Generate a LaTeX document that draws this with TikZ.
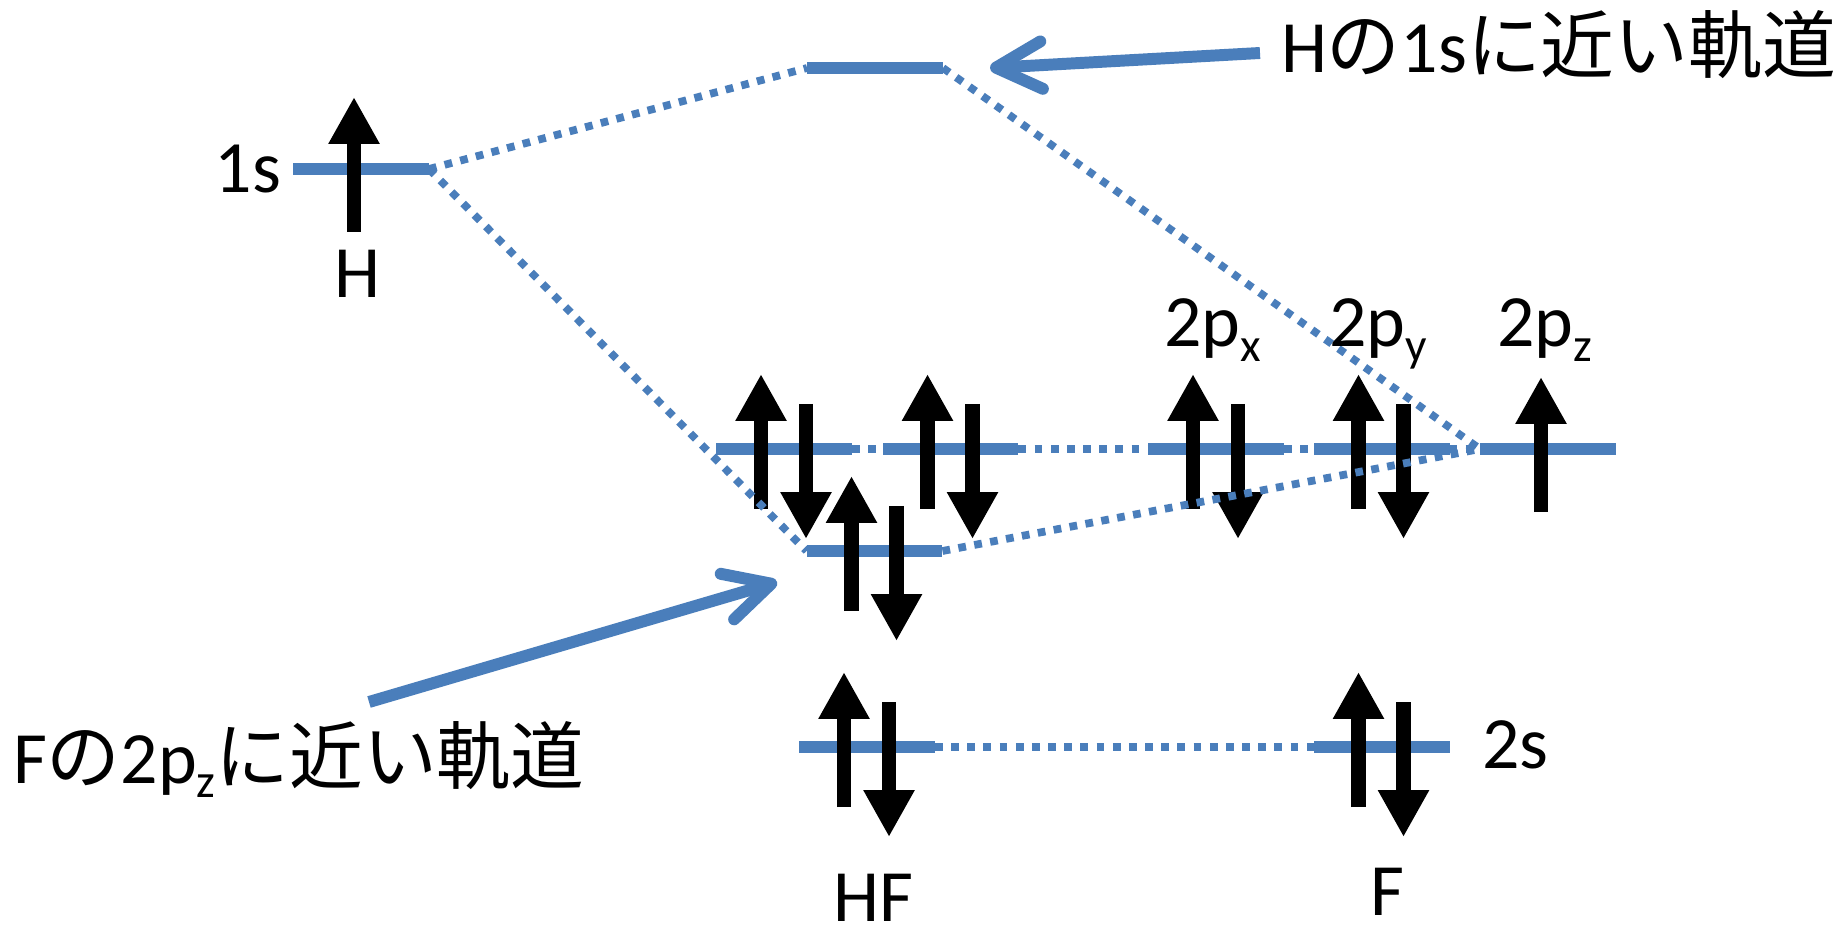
\documentclass[tikz,border=0pt]{standalone}
\usepackage{fontspec}
\setmainfont{Carlito}
\newfontfamily\jp{Noto Sans CJK JP}
\usetikzlibrary{arrows.meta,calc}
\definecolor{lvblue}{RGB}{74,126,187}
\newcommand\lowsub[1]{\raisebox{-8.5pt}{\fontsize{27}{27}\selectfont #1}}
\newcommand\epair[1]{%
  \draw[eup] ($(#1.west)+(45,60)$) -- ++(0,-135);
  \draw[eup] ($(#1.west)+(90,-45)$) -- ++(0,135);}
\newcommand\esingle[1]{%
  \draw[eup] ($(#1.west)+(61,63)$) -- ++(0,-135);}
\begin{document}
\begin{tikzpicture}[x=0.02cm,y=-0.02cm,
  mo/.style={rectangle,fill=lvblue,minimum width=2.72cm,minimum height=0.24cm,inner sep=0pt,outer sep=0pt},
  dotline/.style={draw=lvblue,line width=4.4pt,dash pattern=on 4.4pt off 4.8pt},
  eup/.style={line width=8.5pt,-{Triangle[width=27.3pt,length=26.7pt]}},
  pointer/.style={draw=lvblue,line width=6.8pt,-{Straight Barb[length=26pt,width=27pt,line cap=round,line join=round]}},
  lab/.style={inner sep=0pt,outer sep=0pt,font=\fontsize{42}{50}\selectfont}
]
\fill[white] (0,0) rectangle (1833,932);
\useasboundingbox (0,0) rectangle (1833,932);

% levels
\node[mo] (h1s)  at (361,169) {};
\node[mo] (top)  at (875,68) {};
\node[mo] (nb1)  at (784,449) {};
\node[mo] (nb2)  at (950.5,449) {};
\node[mo] (px)   at (1216,449) {};
\node[mo] (py)   at (1381.5,449) {};
\node[mo] (pz)   at (1548,449) {};
\node[mo] (sig)  at (874.5,551) {};
\node[mo] (hf2s) at (867,747) {};
\node[mo] (f2s)  at (1381.5,747) {};

% electrons
\esingle{h1s}
\esingle{pz}
\epair{nb1}
\epair{nb2}
\epair{px}
\epair{py}
\epair{sig}
\epair{hf2s}
\epair{f2s}

% correlation lines
\draw[dotline] (h1s.east) -- (top.west);
\draw[dotline] (h1s.east) -- (sig.west);
\draw[dotline] (top.east) -- (pz.west);
\draw[dotline] (sig.east) -- (pz.west);
\draw[dotline] (nb1.east) -- (nb2.west);
\draw[dotline] (nb2.east) -- (px.west);
\draw[dotline] (px.east) -- (py.west);
\draw[dotline] (py.east) -- (pz.west);
\draw[dotline] (hf2s.east) -- (f2s.west);

% labels
\node[lab,anchor=base] (l1s) at (248,193) {1s};
\node[lab,anchor=base] (lH) at (357,298) {H};
\node[lab,anchor=base west] (lpx) at (1164,347) {2p\lowsub{x}};
\node[lab,anchor=base west] (lpy) at (1329,347) {2p\lowsub{y}};
\node[lab,anchor=base west] (lpz) at (1497,347) {2p\lowsub{z}};
\node[lab,anchor=base west] (l2s) at (1482,768) {2s};
\node[lab,anchor=base] (lHF) at (873,921) {HF};
\node[lab,anchor=base] (lF) at (1387,915) {F};
\node[lab,anchor=base west] (labH) at (1281,73) {H{\jp の}1s{\jp に近い軌道}};
\node[lab,anchor=base west] (labF) at (13,783) {F{\jp の}2p\lowsub{z}{\jp に近い軌道}};

% pointers
\coordinate (p1s) at (1260,53);
\coordinate (p1e) at (990,68);
\coordinate (p2s) at (369,702);
\coordinate (p2e) at (777,582);
\draw[pointer] (p1s) -- (p1e);
\draw[pointer] (p2s) -- (p2e);
\end{tikzpicture}
\end{document}
